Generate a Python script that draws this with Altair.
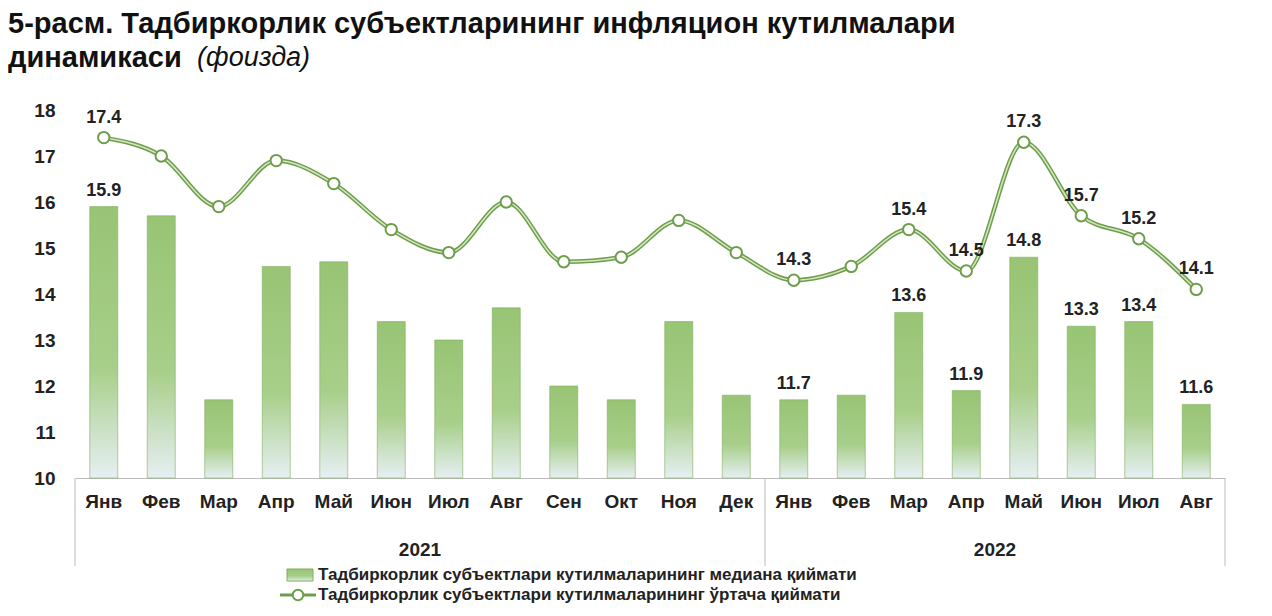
import pandas as pd
import altair as alt

months = ["Янв", "Фев", "Мар", "Апр", "Май", "Июн", "Июл", "Авг", "Сен", "Окт", "Ноя", "Дек",
          "Янв", "Фев", "Мар", "Апр", "Май", "Июн", "Июл", "Авг"]
median = [15.9, 15.7, 11.7, 14.6, 14.7, 13.4, 13.0, 13.7, 12.0, 11.7, 13.4, 11.8,
          11.7, 11.8, 13.6, 11.9, 14.8, 13.3, 13.4, 11.6]
mean = [17.4, 17.0, 15.9, 16.9, 16.4, 15.4, 14.9, 16.0, 14.7, 14.8, 15.6, 14.9,
        14.3, 14.6, 15.4, 14.5, 17.3, 15.7, 15.2, 14.1]
bar_labels = ["15.9"] + [""] * 11 + ["11.7", "", "13.6", "11.9", "14.8", "13.3", "13.4", "11.6"]
line_labels = ["17.4"] + [""] * 11 + ["14.3", "", "15.4", "14.5", "17.3", "15.7", "15.2", "14.1"]
legend_labels = ["Тадбиркорлик субъектлари кутилмаларининг медиана қиймати",
                 "Тадбиркорлик субъектлари кутилмаларининг ўртача қиймати"]

W, H = 1150, 368
band = W / len(months)
font = "Liberation Sans"

df = pd.DataFrame({"i": list(range(len(months))), "m": months, "median": median,
                   "mean": mean, "bl": bar_labels, "ll": line_labels})

label_expr = "[" + ",".join(f"'{m}'" for m in months) + "][datum.value]"
x = alt.X("i:O", axis=alt.Axis(title=None, labelExpr=label_expr, labelAngle=0, labelFontSize=19,
                               labelFontWeight="bold", labelFont=font, labelColor="#222",
                               ticks=False, domainColor="#bbb", labelPadding=14),
          scale=alt.Scale(paddingInner=0, paddingOuter=0))
y = alt.Y("median:Q", scale=alt.Scale(domain=[10, 18]),
          axis=alt.Axis(title=None, values=list(range(10, 19)), labelFontSize=19, labelFontWeight="bold",
                        labelFont=font, labelColor="#222", grid=False, ticks=False, domain=False,
                        labelPadding=20))

base = alt.Chart(df).encode(x=x)

gradient = alt.Gradient(gradient="linear", x1=0, y1=0, x2=0, y2=1,
                        stops=[alt.GradientStop(color="#98c474", offset=0),
                               alt.GradientStop(color="#a8cf8a", offset=0.6),
                               alt.GradientStop(color="#e6eff3", offset=1)])
bars = base.mark_bar(size=28, fill=gradient, stroke="#7fae5c", strokeWidth=0.6).encode(
    y=y, y2=alt.datum(10))
bar_text = base.mark_text(dy=-16, fontSize=18, fontWeight="bold", font=font, color="#222").encode(
    y="median:Q", text="bl:N")

ym = alt.Y("mean:Q")
line_outer = base.mark_line(interpolate="monotone", color="#6e9e4c", strokeWidth=4.5).encode(y=ym)
line_inner = base.mark_line(interpolate="monotone", color="#d4e8c2", strokeWidth=1.5).encode(y=ym)
pts = base.mark_point(filled=True, fill="white", stroke="#6e9e4c", strokeWidth=2, size=130,
                      opacity=1).encode(y=ym)
line_text = base.mark_text(dy=-20, fontSize=18, fontWeight="bold", font=font, color="#222").encode(
    y=ym, text="ll:N")

years = pd.DataFrame({"i": [5, 15], "t": ["2021", "2022"]})
year_text = alt.Chart(years).mark_text(dx=band / 2, fontSize=19, fontWeight="bold", font=font,
                                       color="#222").encode(x="i:O", y=alt.value(H + 72), text="t:N")
seps = pd.DataFrame({"i": [0, 12, 19], "off": [-band / 2, -band / 2, band / 2]})
sep_rules = alt.Chart(seps).mark_rule(color="#bbb").encode(
    x="i:O", xOffset="off:Q", y=alt.value(H), y2=alt.value(H + 88))

leg = pd.DataFrame({"t": legend_labels, "yy": [H + 97, H + 117]})
leg_text = alt.Chart(leg).mark_text(align="left", fontSize=17, fontWeight="bold", font=font,
                                    color="#222").encode(x=alt.value(243), y=alt.Y("yy:Q", scale=None),
                                                         text="t:N")
leg_bar = alt.Chart(pd.DataFrame({"a": [0]})).mark_rect(fill=gradient, stroke="#7fae5c").encode(
    x=alt.value(212), x2=alt.value(238), y=alt.value(H + 91), y2=alt.value(H + 103))
leg_line = alt.Chart(pd.DataFrame({"a": [0]})).mark_rule(color="#6e9e4c", strokeWidth=3).encode(
    x=alt.value(205), x2=alt.value(241), y=alt.value(H + 117))
leg_pt = alt.Chart(pd.DataFrame({"a": [0]})).mark_point(filled=True, fill="white", stroke="#6e9e4c",
                                                        strokeWidth=2, size=110, opacity=1).encode(
    x=alt.value(223), y=alt.value(H + 117))

titles = pd.DataFrame({"t": ["5-расм.  Тадбиркорлик субъектларининг инфляцион кутилмалари", "динамикаси"],
                       "yy": [-86, -52]})
title_text = alt.Chart(titles).mark_text(align="left", fontSize=29, fontWeight="bold", font=font,
                                         color="#111").encode(x=alt.value(-67), y=alt.Y("yy:Q", scale=None),
                                                              text="t:N")
sub_text = alt.Chart(pd.DataFrame({"a": [0]})).mark_text(align="left", fontSize=27, fontStyle="italic",
                                                         font=font, color="#111").encode(
    x=alt.value(122), y=alt.value(-52), text=alt.value("(фоизда)"))

chart = alt.layer(bars, bar_text, line_outer, line_inner, pts, line_text, year_text, sep_rules,
                  leg_text, leg_bar, leg_line, leg_pt, title_text, sub_text).properties(
    width=W, height=H, autosize=alt.AutoSizeParams(type="none"),
    padding={"left": 67, "top": 102, "right": 30, "bottom": 130}, background="white"
).configure_view(stroke=None)

chart.save("out.html", embed_options={"renderer": "svg", "actions": False})
